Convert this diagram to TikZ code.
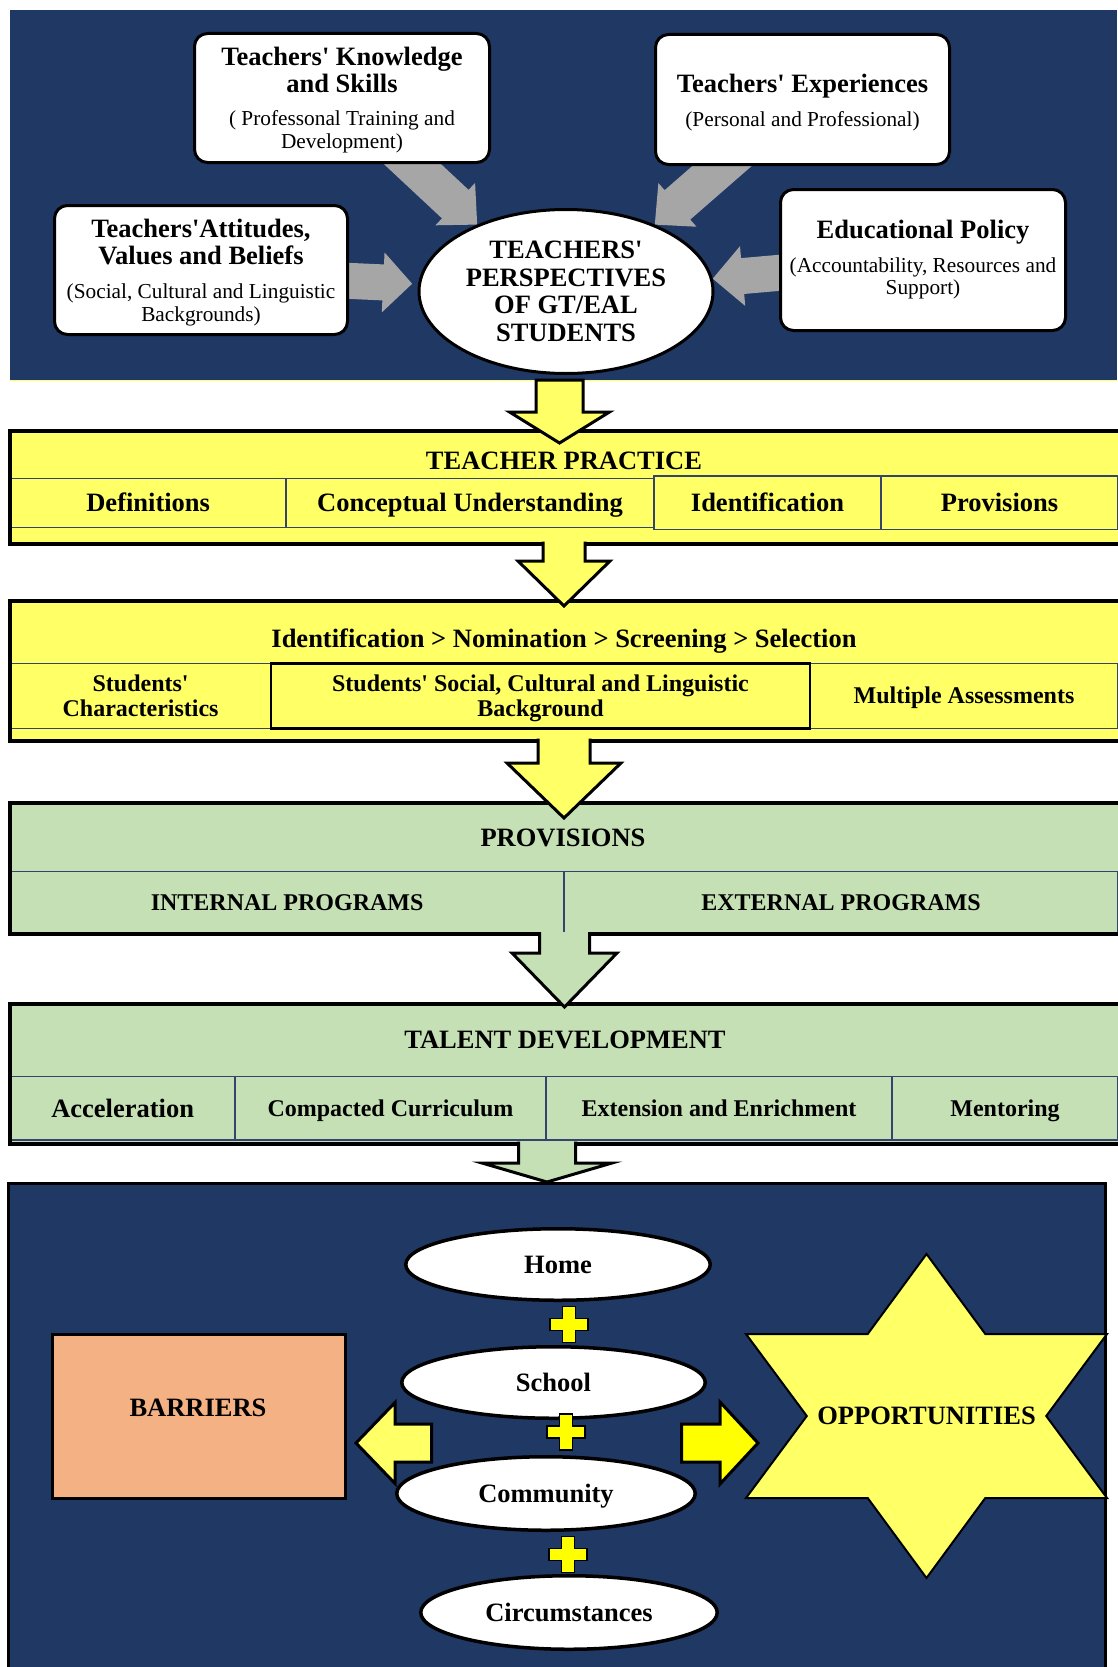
\documentclass[tikz,border=0pt]{standalone}
\usepackage{fontspec}
\setmainfont{Liberation Serif}
\usetikzlibrary{calc,shapes.geometric}
\definecolor{navyA}{RGB}{32,56,100}
\definecolor{yelA}{RGB}{255,255,102}
\definecolor{yelB}{RGB}{255,255,0}
\definecolor{grnA}{RGB}{197,224,180}
\definecolor{salA}{RGB}{244,177,131}
\definecolor{grayA}{RGB}{166,166,166}
\definecolor{celln}{RGB}{52,68,110}
\pgfdeclarelayer{back}
\pgfdeclarelayer{mid}
\pgfsetlayers{back,mid,main}
\newcommand\ap{\textquotesingle}
\newcommand\fA{\bfseries\fontsize{26.5pt}{27pt}\selectfont}
\newcommand\fB{\bfseries\fontsize{24pt}{25pt}\selectfont}
\newcommand\fC{\mdseries\fontsize{21.3pt}{23pt}\selectfont}
% #1 style, #2 start, #3 tip, #4 half shaft, #5 half head, #6 head length, #7 ending
\newcommand\blockarrow[7]{%
  \coordinate (bam) at ($(#3)!#6!(#2)$);
  \path[#1] ($(#2)!#4!90:(#3)$) -- ($(bam)!#4!90:(#3)$) -- ($(bam)!#5!90:(#3)$) -- (#3) -- ($(bam)!#5!-90:(#3)$) -- ($(bam)!#4!-90:(#3)$) -- ($(#2)!#4!-90:(#3)$) #7;}
\tikzset{plussign/.pic={\filldraw[fill=yelB, draw=black, line width=1.8pt, line join=miter]
  (-6.5,-18) -- (6.5,-18) -- (6.5,-6) -- (19,-6) -- (19,6) -- (6.5,6) -- (6.5,18) -- (-6.5,18) -- (-6.5,6) -- (-19,6) -- (-19,-6) -- (-6.5,-6) -- cycle;}}
\begin{document}
\begin{tikzpicture}[x=1pt,y=-1pt,
  rbox/.style={draw=black, line width=3pt, fill=white, rounded corners=13pt, inner sep=0pt},
  rtext/.style={align=center, font=\fA, inner sep=0pt},
  ttl/.style={font=\fA, anchor=base, inner sep=0pt},
  cellbig/.style={draw=celln, line width=1.5pt, inner sep=0pt, font=\fA, text height=17.5pt, text depth=0pt},
  cellsm/.style={draw=celln, line width=1.5pt, inner sep=0pt, font=\fB, text height=15.8pt, text depth=0pt},
  celltwo/.style={draw=celln, line width=1.5pt, inner sep=0pt, font=\fB, align=center},
  boxfill/.style={inner sep=0pt, minimum width=1115pt},
  bigbox/.style={draw=black, line width=4pt},
  yarr/.style={fill=yelA, draw=black, line width=3pt, line join=miter},
  garr/.style={fill=grnA, draw=black, line width=3pt, line join=miter},
  grarr/.style={fill=grayA},
  oval/.style={ellipse, draw=black, line width=3.5pt, fill=white, inner sep=0pt, font=\fA, text height=17.5pt, text depth=0pt},
]
\useasboundingbox (0,0) rectangle (1117,1667);

% ---------- top panel ----------
\begin{pgfonlayer}{back}
\fill[navyA] (10,10) rectangle (1117,380);
\draw[yelA, line width=1pt] (10,380.5) -- (1117,380.5);
\end{pgfonlayer}

\node[rbox, minimum width=295pt, minimum height=129pt] (know) at (342,98) {};
\node[rtext] (knowt) at ($(know)+(0,2.5)$)
  {Teachers\ap{} Knowledge\\and Skills\\[6pt]{\fC (\ Professonal Training and}\\[-4pt]{\fC Development)}};
\node[rbox, minimum width=294pt, minimum height=130pt] (exper) at (802.5,99.5) {};
\node[rtext] (expert) at ($(exper)+(0,3)$)
  {Teachers\ap{} Experiences\\[6.5pt]{\fC (Personal and Professional)}};
\node[rbox, minimum width=293pt, minimum height=129pt] (att) at (201,270) {};
\node[rtext] (attt) at ($(att)+(0,2.5)$)
  {Teachers\ap Attitudes,\\Values and Beliefs\\[6.5pt]{\fC (Social, Cultural and Linguistic}\\[-4pt]{\fC Backgrounds)}};
\node[rbox, minimum width=285pt, minimum height=141pt] (pol) at (923,260) {};
\node[rtext] (polt) at (pol)
  {Educational Policy\\[6.5pt]{\fC (Accountability, Resources and}\\[-4.5pt]{\fC Support)}};
\node[ellipse, draw=black, line width=3pt, fill=white, minimum width=294pt, minimum height=164pt,
  inner sep=0pt, align=center, font=\fA\fontsize{26.5pt}{27.5pt}\selectfont] (persp) at (566,291.5)
  {TEACHERS\ap\\PERSPECTIVES\\OF GT/EAL\\STUDENTS};

\begin{pgfonlayer}{mid}
\coordinate (g1s) at (392,145);
\coordinate (g2s) at (745,146);
\coordinate (g3s) at (330,280);
\coordinate (g3t) at ($(persp.177)+(-6,0)$);
\coordinate (g4s) at (800,271);
\blockarrow{grarr}{g1s}{persp.143}{19.5pt}{29pt}{30pt}{-- cycle}
\blockarrow{grarr}{g2s}{persp.37}{19.5pt}{29pt}{30pt}{-- cycle}
\blockarrow{grarr}{g3s}{g3t}{18pt}{30pt}{29pt}{-- cycle}
\blockarrow{grarr}{g4s}{persp.5.5}{18pt}{30pt}{30pt}{-- cycle}
\end{pgfonlayer}

% ---------- teacher practice ----------
\node[boxfill, fill=yelA, minimum height=112.4pt] (tp) at (567.65,487.5) {};
\node[ttl] (tpt) at (564,469.5) {TEACHER PRACTICE};
\node[cellbig, minimum width=275.7pt, minimum height=49pt] (c11) at (148.2,502.8) {Definitions};
\node[cellbig, minimum width=368pt, minimum height=49pt] (c12) at (470,502.8) {Conceptual Understanding};
\node[cellbig, minimum width=227pt, minimum height=53.3pt] (c13) at (767.5,502.7) {Identification};
\node[cellbig, minimum width=237pt, minimum height=53.3pt] (c14) at (999.5,502.7) {Provisions};
\draw[bigbox] (tp.north west) rectangle (tp.south east);

% ---------- identification ----------
\node[boxfill, fill=yelA, minimum height=139.5pt] (idb) at (567.65,670.75) {};
\node[ttl] (idt) at (564,647) {Identification > Nomination > Screening > Selection};
\node[celltwo, minimum width=260.7pt, minimum height=65pt] (c21) at (140.6,695.8) {Students\ap\\Characteristics};
\node[cellsm, minimum width=308pt, minimum height=65pt] (c23) at (964,695.8) {Multiple Assessments};
\node[celltwo, draw=black, line width=2.5pt, text depth=0pt, minimum width=539pt, minimum height=65pt] (c22) at (540.5,695.8)
  {Students\ap{} Social, Cultural and Linguistic\\Background};
\draw[bigbox] (idb.north west) rectangle (idb.south east);

% ---------- provisions ----------
\node[boxfill, fill=grnA, minimum height=130.5pt] (prov) at (567.65,868.75) {};
\node[ttl] (provt) at (563,846) {PROVISIONS};
\node[cellsm, minimum width=553.7pt, minimum height=62.3pt] (c31) at (287.15,902.85) {INTERNAL PROGRAMS};
\node[cellsm, minimum width=554pt, minimum height=62.3pt] (c32) at (841,902.85) {EXTERNAL PROGRAMS};
\draw[bigbox] (prov.north west) rectangle (prov.south east);

% ---------- talent development ----------
\node[boxfill, fill=grnA, minimum height=139pt] (td) at (567.65,1074) {};
\node[ttl] (tdt) at (565,1048.5) {TALENT DEVELOPMENT};
\node[cellbig, minimum width=224.7pt, minimum height=63.5pt] (c41) at (122.65,1108.25) {Acceleration};
\node[cellsm, minimum width=311pt, minimum height=63.5pt] (c42) at (390.5,1108.25) {Compacted Curriculum};
\node[cellsm, minimum width=346pt, minimum height=63.5pt] (c43) at (719,1108.25) {Extension and Enrichment};
\node[cellsm, minimum width=226pt, minimum height=63.5pt] (c44) at (1005,1108.25) {Mentoring};
\draw[bigbox] (td.north west) rectangle (td.south east);

% ---------- bottom panel ----------
\node[draw=black, line width=3pt, fill=navyA, minimum width=1096.5pt, minimum height=500pt, inner sep=0pt] (bot) at (556.75,1433) {};

\coordinate (la) at (431.7,1443);
\coordinate (lt) at (356,1443);
\blockarrow{yarr}{la}{lt}{19pt}{40.5pt}{39pt}{-- cycle}
\coordinate (ra) at (681.7,1443);
\coordinate (rt) at (758,1443);
\blockarrow{yarr, fill=yelB}{ra}{rt}{19pt}{41pt}{38pt}{-- cycle}

\node[draw=black, line width=3pt, fill=salA, minimum width=293pt, minimum height=164pt, inner sep=0pt] (bar) at (199,1416.5) {};
\node[ttl] (bart) at (198,1416.7) {BARRIERS};

\coordinate (oc) at (926.5,1416);
\begin{scope}[shift={(oc)}]
\filldraw[fill=yelA, draw=black, line width=2pt, line join=miter]
  (0,-162) -- (58.8,-82) -- (180.5,-82) -- (119.7,0) -- (180.5,82) -- (58.8,82) -- (0,162)
  -- (-58.8,82) -- (-180.5,82) -- (-119.7,0) -- (-180.5,-82) -- (-58.8,-82) -- cycle;
\end{scope}
\node[font=\fA, text height=17.5pt, text depth=0pt, inner sep=0pt] (opp) at (oc) {OPPORTUNITIES};

\node[oval, minimum width=304.5pt, minimum height=71.5pt] (home) at (558,1264.5) {Home};
\node[oval, minimum width=303.5pt, minimum height=71.5pt] (school) at (553.5,1382.5) {School};
\node[oval, minimum width=298.5pt, minimum height=73.5pt] (comm) at (546,1493.5) {Community};
\node[oval, minimum width=296.5pt, minimum height=73.5pt] (circ) at (569,1612.5) {Circumstances};

\pic (pl1) at (569,1324.5) {plussign};
\pic (pl2) at (566,1432) {plussign};
\pic (pl3) at (568,1554.5) {plussign};

% ---------- down arrows ----------
\coordinate (a1s) at (559.5,380);
\coordinate (a1t) at (559.5,443);
\blockarrow{yarr}{a1s}{a1t}{23.5pt}{50pt}{31pt}{-- cycle}
\coordinate (a2s) at (564,541.5);
\coordinate (a2t) at (564,606);
\blockarrow{yarr}{a2s}{a2t}{21pt}{46pt}{45pt}{}
\coordinate (a3s) at (564,738.5);
\coordinate (a3t) at (564,818);
\blockarrow{yarr}{a3s}{a3t}{26pt}{57pt}{55pt}{}
\coordinate (a4s) at (564.5,932);
\coordinate (a4t) at (564.5,1007);
\blockarrow{garr}{a4s}{a4t}{25pt}{52.5pt}{54pt}{}
\coordinate (a5s) at (547,1141.5);
\coordinate (a5t) at (547,1182);
\blockarrow{garr}{a5s}{a5t}{28.5pt}{65pt}{19pt}{}
\end{tikzpicture}
\end{document}
